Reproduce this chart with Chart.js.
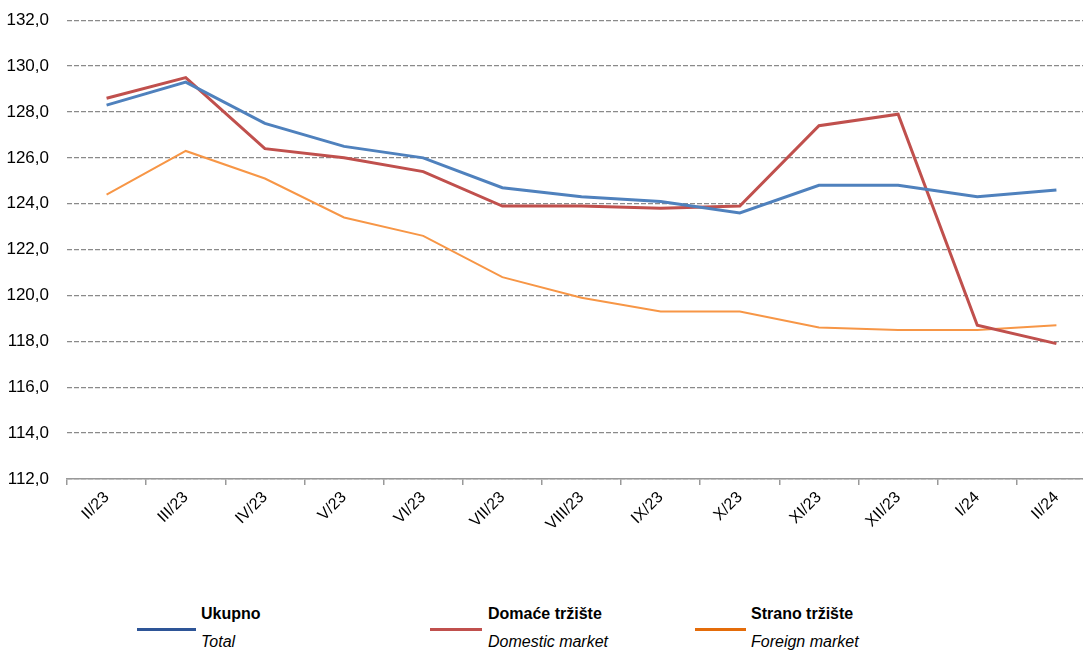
<!DOCTYPE html>
<html>
<head>
<meta charset="utf-8">
<script src="https://cdn.jsdelivr.net/npm/chart.js@4/dist/chart.umd.min.js"></script>
<style>
  html, body { margin:0; padding:0; background:#fff; overflow:hidden; width:1083px; height:654px; }
  #wrap { position:absolute; left:0; top:-8px; width:1096px; height:568px; }
  .leg { position:absolute; font-family:"Liberation Sans",Arial,sans-serif; font-size:16px; color:#000; line-height:20px; }
  .leg b { font-weight:bold; display:block; }
  .leg i { font-style:italic; display:block; margin-top:8px; }
  .sw { position:absolute; height:3px; }
</style>
</head>
<body>
<div id="wrap"><canvas id="c" width="1096" height="568"></canvas></div>

<div class="sw" style="left:137px; top:628px; width:59px; background:#2E5597;"></div>
<div class="leg" style="left:201px; top:604px;"><b>Ukupno</b><i>Total</i></div>
<div class="sw" style="left:430px; top:628px; width:52px; background:#C0504D;"></div>
<div class="leg" style="left:488px; top:604px;"><b>Domaće tržište</b><i>Domestic market</i></div>
<div class="sw" style="left:695px; top:628px; width:51px; background:#E46C0A;"></div>
<div class="leg" style="left:751px; top:604px;"><b>Strano tržište</b><i>Foreign market</i></div>

<script>
const categories = ["II/23","III/23","IV/23","V/23","VI/23","VII/23","VIII/23","IX/23","X/23","XI/23","XII/23","I/24","II/24"];
const ukupno  = [128.3,129.3,127.5,126.5,126.0,124.7,124.3,124.1,123.6,124.8,124.8,124.3,124.6];
const domace  = [128.6,129.5,126.4,126.0,125.4,123.9,123.9,123.8,123.9,127.4,127.9,118.7,117.9];
const strano  = [124.4,126.3,125.1,123.4,122.6,120.8,119.9,119.3,119.3,118.6,118.5,118.5,118.7];
const seriesNames = ["Ukupno","Domaće tržište","Strano tržište"];

const FONT = "'Liberation Sans',Arial,sans-serif";

new Chart(document.getElementById('c'), {
  type: 'line',
  data: {
    labels: categories,
    datasets: [
      { label: seriesNames[0], data: ukupno, borderColor:'#4F81BD', borderWidth:3, pointRadius:0, tension:0 },
      { label: seriesNames[1], data: domace, borderColor:'#C0504D', borderWidth:3, pointRadius:0, tension:0 },
      { label: seriesNames[2], data: strano, borderColor:'#F79646', borderWidth:2, pointRadius:0, tension:0 }
    ]
  },
  options: {
    responsive:false,
    animation:false,
    layout:{ padding:{ top:3, right:0, left:0, bottom:0 } },
    plugins:{ legend:{display:false}, tooltip:{enabled:false} },
    scales:{
      x:{
        offset:true,
        grid:{ offset:true, drawOnChartArea:false, drawTicks:true, tickLength:6, color:'#999', lineWidth:1.5 },
        border:{ display:true, color:'#999', width:1.5 },
        ticks:{ autoSkip:false, maxRotation:45, minRotation:45, color:'#000', font:{family:FONT, size:16}, padding:3 },
        afterFit:(s)=>{ s.height = 81; }
      },
      y:{
        min:112, max:132,
        grid:{ color:'#8a8a8a', lineWidth:1.3, drawTicks:false },
        border:{ display:false, dash:[5,2] },
        ticks:{ stepSize:2, color:'#000', font:{family:FONT, size:17}, padding:18,
          callback:(v)=> v.toFixed(1).replace('.',',') },
        afterFit:(s)=>{ s.width = 67; }
      }
    }
  }
});
</script>
</body>
</html>
